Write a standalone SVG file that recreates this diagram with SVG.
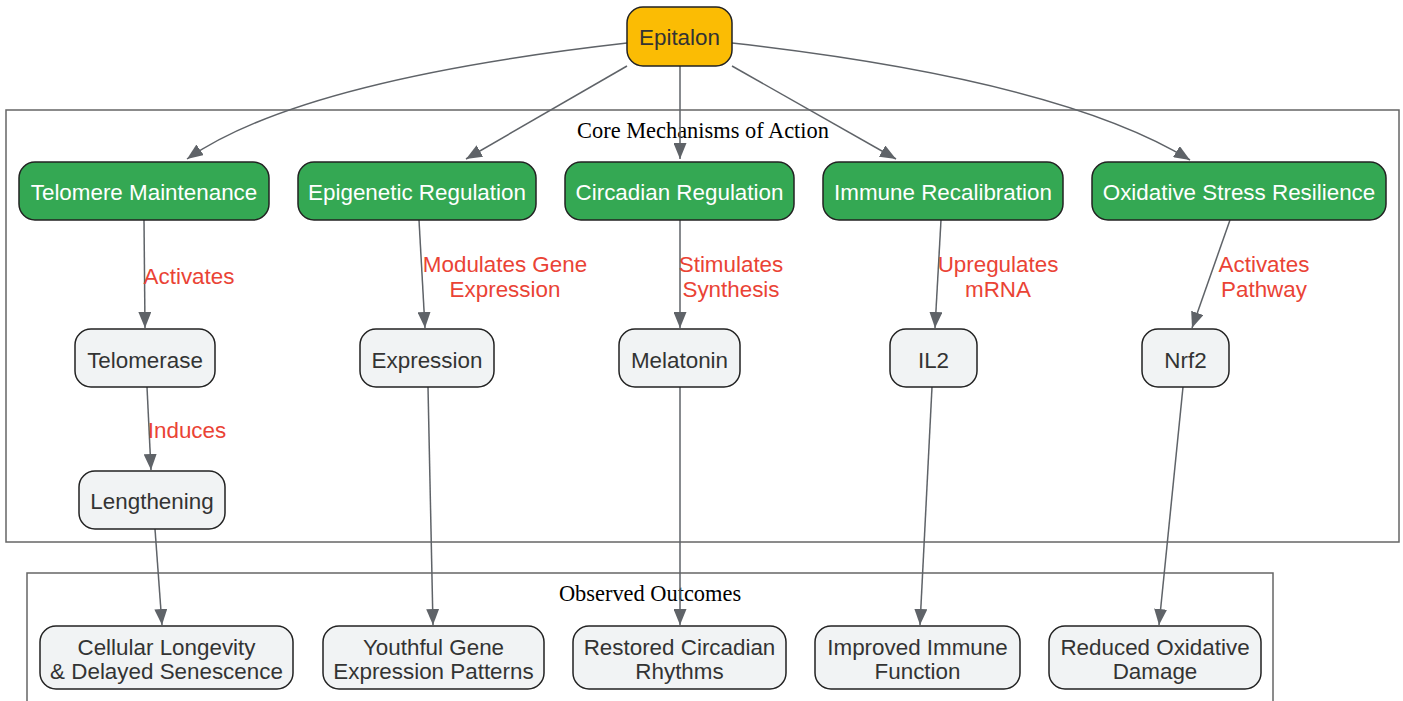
<svg xmlns="http://www.w3.org/2000/svg" width="1403" height="701" viewBox="0 0 1403 701">
<defs>
<marker id="arr" viewBox="0 0 16 13" refX="16" refY="6.5" markerWidth="16" markerHeight="13" markerUnits="userSpaceOnUse" orient="auto">
<path d="M0,0 L16,6.5 L0,13 z" fill="#5f6368"/>
</marker>
</defs>
<style>
.cl{fill:none;stroke:#666;stroke-width:1.5}
.ct{font-family:"Liberation Serif",serif;font-size:22.4px;fill:#000;text-anchor:middle}
.n rect{stroke:#222;stroke-width:1.5}
.g rect{fill:#34a853}
.g text{fill:#fff}
.w rect{fill:#f1f3f4}
.w text{fill:#333}
.y rect{fill:#fbbc04}
.y text{fill:#333}
.n text{font-family:"Liberation Sans",Arial,sans-serif;font-size:22.4px;text-anchor:middle}
.e path{fill:none;stroke:#5f6368;stroke-width:1.5;marker-end:url(#arr)}
.lb{font-family:"Liberation Sans",Arial,sans-serif;font-size:22.4px;fill:#ea4335;text-anchor:middle}
</style>
<rect width="1403" height="701" fill="#fff"/>
<g id="cluster-core">
<rect class="cl" x="6" y="110" width="1393" height="432"/>
<text class="ct" x="703" y="138">Core Mechanisms of Action</text>
</g>
<g id="cluster-outcomes">
<rect class="cl" x="27" y="573" width="1246" height="140"/>
<text class="ct" x="650" y="601">Observed Outcomes</text>
</g>
<g id="connectors" class="e">
<path d="M627,43 Q300,80 187,159"/>
<path d="M627,66 L466,159"/>
<path d="M680,66 L680,159"/>
<path d="M732,66 L896,159"/>
<path d="M732,43 Q1060,80 1190,160"/>
<path d="M144,220 L145,328"/>
<path d="M419,220 L425,328"/>
<path d="M680,220 L680,328"/>
<path d="M941,220 L935,328"/>
<path d="M1230,220 L1192,328"/>
<path d="M147,387 L151,470"/>
<path d="M155,529 L162,625"/>
<path d="M428,387 L433,625"/>
<path d="M680,387 L680,625"/>
<path d="M932,387 L920,625"/>
<path d="M1183,387 L1159,625"/>
</g>
<g id="edge-labels">
<text class="lb" x="189" y="284">Activates</text>
<text class="lb" x="505" y="272">Modulates Gene</text>
<text class="lb" x="505" y="297">Expression</text>
<text class="lb" x="731" y="272">Stimulates</text>
<text class="lb" x="731" y="297">Synthesis</text>
<text class="lb" x="998" y="272">Upregulates</text>
<text class="lb" x="998" y="297">mRNA</text>
<text class="lb" x="1264" y="272">Activates</text>
<text class="lb" x="1264" y="297">Pathway</text>
<text class="lb" x="187" y="438">Induces</text>
</g>
<g id="epitalon" class="n y"><rect x="627" y="7" width="105" height="59" rx="16"/><text x="679.5" y="45">Epitalon</text></g>
<g id="telomere-maintenance" class="n g"><rect x="19" y="162" width="250" height="58" rx="16"/><text x="144" y="200">Telomere Maintenance</text></g>
<g id="epigenetic-regulation" class="n g"><rect x="298" y="162" width="238" height="58" rx="16"/><text x="417" y="200">Epigenetic Regulation</text></g>
<g id="circadian-regulation" class="n g"><rect x="565" y="162" width="229" height="58" rx="16"/><text x="679.5" y="200">Circadian Regulation</text></g>
<g id="immune-recalibration" class="n g"><rect x="823" y="162" width="240" height="58" rx="16"/><text x="943" y="200">Immune Recalibration</text></g>
<g id="oxidative-stress" class="n g"><rect x="1092" y="162" width="294" height="58" rx="16"/><text x="1239" y="200">Oxidative Stress Resilience</text></g>
<g id="telomerase" class="n w"><rect x="75" y="329" width="140" height="58" rx="16"/><text x="145" y="368">Telomerase</text></g>
<g id="expression" class="n w"><rect x="360" y="329" width="134" height="58" rx="16"/><text x="427" y="368">Expression</text></g>
<g id="melatonin" class="n w"><rect x="619" y="329" width="121" height="58" rx="16"/><text x="679.5" y="368">Melatonin</text></g>
<g id="il2" class="n w"><rect x="890" y="329" width="87" height="58" rx="16"/><text x="933.5" y="368">IL2</text></g>
<g id="nrf2" class="n w"><rect x="1142" y="329" width="87" height="58" rx="16"/><text x="1185.5" y="368">Nrf2</text></g>
<g id="lengthening" class="n w"><rect x="79" y="471" width="146" height="58" rx="16"/><text x="152" y="509">Lengthening</text></g>
<g id="cellular-longevity" class="n w"><rect x="40" y="626" width="253" height="63" rx="16"/><text x="166.5" y="655">Cellular Longevity</text><text x="166.5" y="679">&amp; Delayed Senescence</text></g>
<g id="youthful-gene" class="n w"><rect x="323" y="626" width="221" height="63" rx="16"/><text x="433.5" y="655">Youthful Gene</text><text x="433.5" y="679">Expression Patterns</text></g>
<g id="restored-circadian" class="n w"><rect x="573" y="626" width="213" height="63" rx="16"/><text x="679.5" y="655">Restored Circadian</text><text x="679.5" y="679">Rhythms</text></g>
<g id="improved-immune" class="n w"><rect x="815" y="626" width="205" height="63" rx="16"/><text x="917.5" y="655">Improved Immune</text><text x="917.5" y="679">Function</text></g>
<g id="reduced-oxidative" class="n w"><rect x="1049" y="626" width="212" height="63" rx="16"/><text x="1155" y="655">Reduced Oxidative</text><text x="1155" y="679">Damage</text></g>
</svg>
